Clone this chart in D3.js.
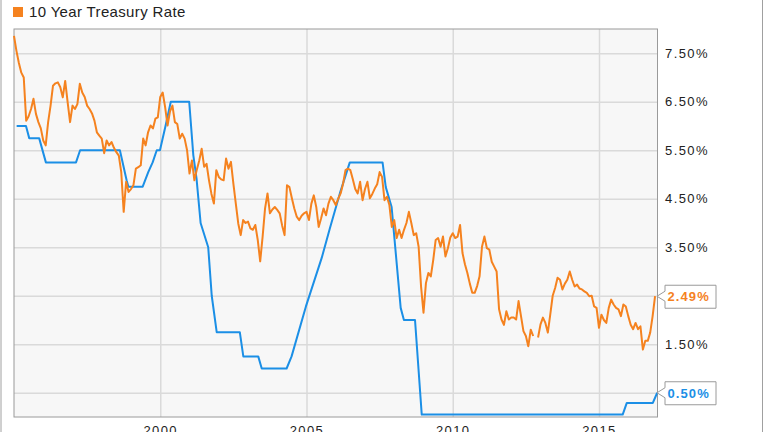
<!DOCTYPE html>
<html><head><meta charset="utf-8">
<script src="https://cdn.jsdelivr.net/npm/d3@7"></script>
<style>
html,body{margin:0;padding:0;background:#fff;overflow:hidden}
svg{display:block;font-family:"Liberation Sans",Arial,sans-serif}
</style></head><body>
<svg id="chart" width="764" height="432"></svg>
<script>
// ---------- DATA ----------
const seriesName = "10 Year Treasury Rate";
const startYear = 1995;            // first month of the monthly series (Jan 1995)
// 10-year treasury rate, monthly, Jan 1995 .. Dec 2016 (null = gap in source)
const tenYearRate = [
  7.86,7.55,7.30,7.10,7.00,6.11,6.20,6.35,6.56,6.25,6.08,5.95,   // 1995
  5.70,5.60,6.08,6.42,6.83,6.88,6.90,6.80,6.59,6.93,6.49,6.08,   // 1996
  6.42,6.35,6.45,6.87,6.69,6.60,6.42,6.35,6.26,6.11,5.87,5.80,   // 1997
  5.74,5.44,5.70,5.60,5.67,5.55,5.46,5.39,5.05,4.23,4.85,4.64,   // 1998
  4.70,4.78,5.12,5.15,5.19,5.74,5.60,5.87,6.01,5.95,6.15,6.18,   // 1999
  6.60,6.69,6.39,6.01,6.30,6.42,6.08,6.04,5.74,5.84,5.74,5.50,   // 2000
  5.02,5.29,4.88,5.10,5.29,5.53,5.16,5.22,4.88,4.60,4.40,5.09,   // 2001
  4.95,4.90,4.88,5.33,5.12,5.26,4.81,4.40,3.99,3.75,4.06,4.00,   // 2002
  4.03,3.89,3.86,3.96,3.65,3.21,3.72,4.30,4.61,4.20,4.28,4.33,   // 2003
  4.27,4.20,3.95,3.75,4.78,4.74,4.51,4.30,4.13,4.06,4.15,4.20,   // 2004
  4.23,4.06,4.40,4.57,4.33,3.92,4.10,4.30,4.16,4.40,4.54,4.47,   // 2005
  4.37,4.50,4.61,4.81,5.09,5.12,5.09,4.90,4.70,4.61,4.85,4.47,   // 2006
  4.70,4.85,4.51,4.60,4.71,4.80,5.05,4.95,4.47,4.54,4.37,3.92,   // 2007
  4.06,3.69,3.86,3.69,3.86,4.00,4.23,4.00,3.75,3.79,3.51,2.69,   // 2008
  2.15,2.76,2.97,2.90,3.24,3.65,3.69,3.51,3.72,3.31,3.48,3.70,   // 2009
  3.79,3.69,3.72,3.96,3.38,3.15,2.97,2.75,2.56,2.56,2.70,2.90,   // 2010
  3.51,3.72,3.48,3.45,3.20,3.10,3.00,2.22,2.01,1.90,2.18,2.01,   // 2011
  2.05,2.05,2.01,2.39,2.08,1.77,1.67,1.46,1.80,1.67,null,1.64,   // 2012
  1.91,2.05,1.94,1.74,2.11,2.50,2.66,2.87,2.83,2.63,2.75,2.83,   // 2013
  3.00,2.83,2.69,2.73,2.65,2.63,2.59,2.56,2.49,2.50,2.28,2.25,   // 2014
  1.84,2.11,2.00,1.94,2.25,2.42,2.32,2.25,2.22,2.08,2.32,2.28,   // 2015
  2.08,1.90,1.81,1.94,1.81,1.87,1.39,1.57,1.57,1.74,2.08,2.49    // 2016
];
// Fed funds rate (blue line), decimal year / rate pairs
const fedYears = [1995.09,1995.41,1995.52,1995.86,1996.09,1997.12,1997.26,1998.62,1998.85,1998.91,
  1999.40,1999.59,1999.74,1999.88,1999.99,2000.18,2000.36,2000.99,2001.13,2001.24,2001.38,2001.64,
  2001.76,2001.93,2002.72,2002.84,2003.35,2003.47,2004.32,2004.49,2004.98,2005.52,2005.80,2006.14,
  2006.48,2007.60,2007.71,2007.91,2008.22,2008.33,2008.71,2008.94,2015.81,2015.95,2016.84,2016.99];
const fedRates = [6.00,6.00,5.75,5.75,5.25,5.25,5.50,5.50,4.88,4.75,
  4.75,5.05,5.25,5.50,5.50,6.00,6.50,6.50,5.40,4.92,4.00,3.50,
  2.50,1.75,1.75,1.25,1.25,1.00,1.00,1.25,2.28,3.28,3.89,4.61,
  5.25,5.25,4.74,4.33,2.25,2.00,2.00,0.05,0.05,0.29,0.29,0.50];
const yTicks = [0.5,1.5,2.5,3.5,4.5,5.5,6.5,7.5];
const xTicks = [2000,2005,2010,2015];
const lastTenYear = 2.49;
const lastFed = 0.50;

// ---------- STYLE ----------
const orange = "#f5821f", blue = "#1b8fe6";
const L = 14, R = 657.5, T = 29, B = 417;

const svg = d3.select("#chart");
const x = d3.scaleLinear().domain([1995, 2017]).range([L, R]);
const y = d3.scaleLinear().domain([0, 8]).range([B, T]);

// outer frame
svg.append("line").attr("x1",1).attr("x2",1).attr("y1",0).attr("y2",432).attr("stroke","#a0a0a0");
svg.append("line").attr("x1",762.5).attr("x2",762.5).attr("y1",0).attr("y2",432).attr("stroke","#a0a0a0");

// legend
svg.append("rect").attr("x",13).attr("y",7).attr("width",10).attr("height",10).attr("fill",orange);
svg.append("text").attr("x",29).attr("y",17).attr("font-size",15).attr("letter-spacing","0.35px")
  .attr("fill","#222").text(seriesName);

// plot background
svg.append("rect").attr("x",L).attr("y",T).attr("width",R-L).attr("height",B-T).attr("fill","#f7f7f7");

// horizontal grid
const gy = svg.append("g").attr("transform",`translate(${L},0)`)
  .call(d3.axisRight(y).tickValues(yTicks).tickSize(R-L).tickFormat(""));
gy.select(".domain").remove();
gy.selectAll("line").attr("stroke","#dadada").attr("stroke-width",1.5);

// vertical grid
const gx = svg.append("g").attr("transform",`translate(0,${B})`)
  .call(d3.axisTop(x).tickValues(xTicks).tickSize(B-T).tickFormat(""));
gx.select(".domain").remove();
gx.selectAll("line").attr("stroke","#dadada").attr("stroke-width",1.5);

// plot border
svg.append("rect").attr("x",L).attr("y",T).attr("width",R-L).attr("height",B-T)
  .attr("fill","none").attr("stroke","#9a9a9a").attr("stroke-width",1);

// lines
const tenData = tenYearRate.map((v,i)=>({t: startYear + i/12, v}));
const fedData = fedYears.map((t,i)=>({t, v: fedRates[i]}));
const line = d3.line().defined(d=>d.v!=null).x(d=>x(d.t)).y(d=>y(d.v));
svg.append("path").datum(fedData).attr("d",line).attr("fill","none")
  .attr("stroke",blue).attr("stroke-width",2).attr("stroke-linejoin","round");
svg.append("path").datum(tenData).attr("d",line).attr("fill","none")
  .attr("stroke",orange).attr("stroke-width",2).attr("stroke-linejoin","round");

// end labels
const ends = [{v:lastTenYear,c:orange},{v:lastFed,c:blue}];

// right axis labels
const ay = svg.append("g").attr("transform",`translate(${R},0)`)
  .call(d3.axisRight(y).tickValues(yTicks).tickSize(0).tickPadding(7.5).tickFormat(d=>d3.format(".2f")(d)+"%"));
ay.select(".domain").remove();
ay.selectAll("text").attr("font-size",13).attr("letter-spacing","1.4px").attr("fill","#222")
  .attr("font-family","Liberation Sans, Arial, sans-serif")
  .style("display", d => ends.some(e=>Math.abs(y(e.v)-y(d))<14) ? "none" : null);

// bottom axis labels
const ax = svg.append("g").attr("transform",`translate(0,${B})`)
  .call(d3.axisBottom(x).tickValues(xTicks).tickSize(0).tickPadding(9).tickFormat(d3.format("d")));
ax.select(".domain").remove();
ax.selectAll("text").attr("font-size",13).attr("letter-spacing","1.4px").attr("fill","#222")
  .attr("font-family","Liberation Sans, Arial, sans-serif");

ends.forEach(e=>{
  const cy = y(e.v), bx = 665, bw = 51, bh = 23, by = cy - bh/2 + 0.5;
  const tip = R - 0.5;
  svg.append("path")
    .attr("d",`M${tip},${cy} L${bx},${cy-5} L${bx},${by} L${bx+bw},${by} L${bx+bw},${by+bh} L${bx},${by+bh} L${bx},${cy+5} Z`)
    .attr("fill","#fff").attr("stroke","#9a9a9a").attr("stroke-width",1);
  svg.append("text").attr("x",bx+2.5).attr("y",cy+5).attr("font-size",13).attr("font-weight","bold")
    .attr("letter-spacing","1.1px").attr("fill",e.c).text(d3.format(".2f")(e.v)+"%");
});
</script>
</body></html>
